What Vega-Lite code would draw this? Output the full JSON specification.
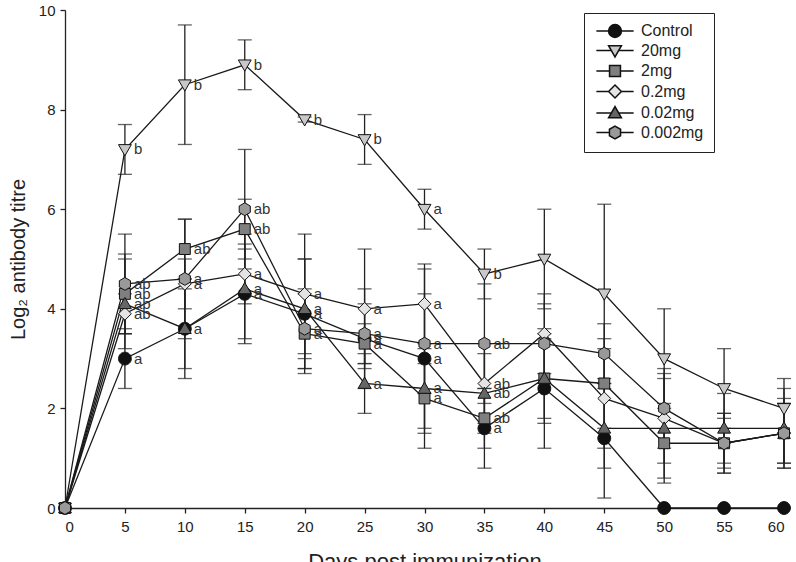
{
  "$schema": "https://vega.github.io/schema/vega-lite/v6.json",
  "width": 719,
  "height": 498,
  "autosize": {"type": "none"},
  "padding": {"left": 65, "top": 10, "right": 12, "bottom": 54},
  "background": "white",
  "config": {
    "view": {"stroke": null},
    "font": "Liberation Sans",
    "axis": {
      "grid": false,
      "domainColor": "#222",
      "domainWidth": 1.3,
      "tickColor": "#222",
      "tickWidth": 1.3,
      "tickSize": 5,
      "labelColor": "#222",
      "labelFontSize": 15,
      "titleColor": "#222",
      "titleFontWeight": "normal"
    }
  },
  "resolve": {"scale": {"shape": "independent", "fill": "independent"}},
  "data": {
    "values": [
      {"day": 0, "group": "Control", "v": 0, "lo": 0, "hi": 0, "lab": ""},
      {"day": 5, "group": "Control", "v": 3.0, "lo": 2.4, "hi": 3.6, "lab": "a"},
      {"day": 10, "group": "Control", "v": 3.6, "lo": 2.6, "hi": 4.6, "lab": "a"},
      {"day": 15, "group": "Control", "v": 4.3, "lo": 3.4, "hi": 5.2, "lab": "a"},
      {"day": 20, "group": "Control", "v": 3.9, "lo": 2.8, "hi": 5.0, "lab": "a"},
      {"day": 25, "group": "Control", "v": 3.4, "lo": 2.4, "hi": 4.4, "lab": "a"},
      {"day": 30, "group": "Control", "v": 3.0, "lo": 1.2, "hi": 4.8, "lab": "a"},
      {"day": 35, "group": "Control", "v": 1.6, "lo": 0.8, "hi": 2.4, "lab": "a"},
      {"day": 40, "group": "Control", "v": 2.4, "lo": 1.2, "hi": 3.6, "lab": ""},
      {"day": 45, "group": "Control", "v": 1.4, "lo": 0.2, "hi": 2.6, "lab": ""},
      {"day": 50, "group": "Control", "v": 0, "lo": 0, "hi": 0, "lab": ""},
      {"day": 55, "group": "Control", "v": 0, "lo": 0, "hi": 0, "lab": ""},
      {"day": 60, "group": "Control", "v": 0, "lo": 0, "hi": 0, "lab": ""},

      {"day": 0, "group": "20mg", "v": 0, "lo": 0, "hi": 0, "lab": ""},
      {"day": 5, "group": "20mg", "v": 7.2, "lo": 6.7, "hi": 7.7, "lab": "b"},
      {"day": 10, "group": "20mg", "v": 8.5, "lo": 7.3, "hi": 9.7, "lab": "b"},
      {"day": 15, "group": "20mg", "v": 8.9, "lo": 8.4, "hi": 9.4, "lab": "b"},
      {"day": 20, "group": "20mg", "v": 7.8, "lo": 7.75, "hi": 7.85, "lab": "b"},
      {"day": 25, "group": "20mg", "v": 7.4, "lo": 6.9, "hi": 7.9, "lab": "b"},
      {"day": 30, "group": "20mg", "v": 6.0, "lo": 5.6, "hi": 6.4, "lab": "a"},
      {"day": 35, "group": "20mg", "v": 4.7, "lo": 4.2, "hi": 5.2, "lab": "b"},
      {"day": 40, "group": "20mg", "v": 5.0, "lo": 4.0, "hi": 6.0, "lab": ""},
      {"day": 45, "group": "20mg", "v": 4.3, "lo": 2.5, "hi": 6.1, "lab": ""},
      {"day": 50, "group": "20mg", "v": 3.0, "lo": 2.0, "hi": 4.0, "lab": ""},
      {"day": 55, "group": "20mg", "v": 2.4, "lo": 1.6, "hi": 3.2, "lab": ""},
      {"day": 60, "group": "20mg", "v": 2.0, "lo": 1.4, "hi": 2.6, "lab": ""},

      {"day": 0, "group": "2mg", "v": 0, "lo": 0, "hi": 0, "lab": ""},
      {"day": 5, "group": "2mg", "v": 4.3, "lo": 3.5, "hi": 5.1, "lab": "ab"},
      {"day": 10, "group": "2mg", "v": 5.2, "lo": 4.6, "hi": 5.8, "lab": "ab"},
      {"day": 15, "group": "2mg", "v": 5.6, "lo": 5.0, "hi": 6.2, "lab": "ab"},
      {"day": 20, "group": "2mg", "v": 3.5, "lo": 2.7, "hi": 4.3, "lab": "a"},
      {"day": 25, "group": "2mg", "v": 3.3, "lo": 2.9, "hi": 3.7, "lab": "a"},
      {"day": 30, "group": "2mg", "v": 2.2, "lo": 1.5, "hi": 2.9, "lab": "a"},
      {"day": 35, "group": "2mg", "v": 1.8, "lo": 1.2, "hi": 2.4, "lab": "ab"},
      {"day": 40, "group": "2mg", "v": 2.6, "lo": 1.8, "hi": 3.4, "lab": ""},
      {"day": 45, "group": "2mg", "v": 2.5, "lo": 1.6, "hi": 3.4, "lab": ""},
      {"day": 50, "group": "2mg", "v": 1.3, "lo": 0.5, "hi": 2.1, "lab": ""},
      {"day": 55, "group": "2mg", "v": 1.3, "lo": 0.8, "hi": 1.8, "lab": ""},
      {"day": 60, "group": "2mg", "v": 1.5, "lo": 0.9, "hi": 2.1, "lab": ""},

      {"day": 0, "group": "0.2mg", "v": 0, "lo": 0, "hi": 0, "lab": ""},
      {"day": 5, "group": "0.2mg", "v": 3.9, "lo": 3.5, "hi": 4.3, "lab": "ab"},
      {"day": 10, "group": "0.2mg", "v": 4.5, "lo": 4.0, "hi": 5.0, "lab": "a"},
      {"day": 15, "group": "0.2mg", "v": 4.7, "lo": 4.1, "hi": 5.3, "lab": "a"},
      {"day": 20, "group": "0.2mg", "v": 4.3, "lo": 3.1, "hi": 5.5, "lab": "a"},
      {"day": 25, "group": "0.2mg", "v": 4.0, "lo": 2.8, "hi": 5.2, "lab": "a"},
      {"day": 30, "group": "0.2mg", "v": 4.1, "lo": 3.3, "hi": 4.9, "lab": "a"},
      {"day": 35, "group": "0.2mg", "v": 2.5, "lo": 1.7, "hi": 3.3, "lab": "ab"},
      {"day": 40, "group": "0.2mg", "v": 3.5, "lo": 2.7, "hi": 4.3, "lab": ""},
      {"day": 45, "group": "0.2mg", "v": 2.2, "lo": 1.2, "hi": 3.2, "lab": ""},
      {"day": 50, "group": "0.2mg", "v": 1.8, "lo": 0.9, "hi": 2.7, "lab": ""},
      {"day": 55, "group": "0.2mg", "v": 1.3, "lo": 0.7, "hi": 1.9, "lab": ""},
      {"day": 60, "group": "0.2mg", "v": 1.5, "lo": 0.8, "hi": 2.2, "lab": ""},

      {"day": 0, "group": "0.02mg", "v": 0, "lo": 0, "hi": 0, "lab": ""},
      {"day": 5, "group": "0.02mg", "v": 4.1, "lo": 3.2, "hi": 5.0, "lab": "ab"},
      {"day": 10, "group": "0.02mg", "v": 3.6, "lo": 2.8, "hi": 4.4, "lab": ""},
      {"day": 15, "group": "0.02mg", "v": 4.4, "lo": 3.3, "hi": 5.5, "lab": "a"},
      {"day": 20, "group": "0.02mg", "v": 4.0, "lo": 3.0, "hi": 5.0, "lab": "a"},
      {"day": 25, "group": "0.02mg", "v": 2.5, "lo": 1.9, "hi": 3.1, "lab": "a"},
      {"day": 30, "group": "0.02mg", "v": 2.4, "lo": 1.6, "hi": 3.2, "lab": "a"},
      {"day": 35, "group": "0.02mg", "v": 2.3, "lo": 1.5, "hi": 3.1, "lab": "ab"},
      {"day": 40, "group": "0.02mg", "v": 2.6, "lo": 1.7, "hi": 3.5, "lab": ""},
      {"day": 45, "group": "0.02mg", "v": 1.6, "lo": 0.8, "hi": 2.4, "lab": ""},
      {"day": 50, "group": "0.02mg", "v": 1.6, "lo": 0.6, "hi": 2.6, "lab": ""},
      {"day": 55, "group": "0.02mg", "v": 1.6, "lo": 0.9, "hi": 2.3, "lab": ""},
      {"day": 60, "group": "0.02mg", "v": 1.6, "lo": 0.8, "hi": 2.4, "lab": ""},

      {"day": 0, "group": "0.002mg", "v": 0, "lo": 0, "hi": 0, "lab": ""},
      {"day": 5, "group": "0.002mg", "v": 4.5, "lo": 3.5, "hi": 5.5, "lab": "ab"},
      {"day": 10, "group": "0.002mg", "v": 4.6, "lo": 3.4, "hi": 5.8, "lab": "a"},
      {"day": 15, "group": "0.002mg", "v": 6.0, "lo": 4.8, "hi": 7.2, "lab": "ab"},
      {"day": 20, "group": "0.002mg", "v": 3.6, "lo": 2.8, "hi": 4.4, "lab": "a"},
      {"day": 25, "group": "0.002mg", "v": 3.5, "lo": 2.9, "hi": 4.1, "lab": "a"},
      {"day": 30, "group": "0.002mg", "v": 3.3, "lo": 2.3, "hi": 4.3, "lab": "a"},
      {"day": 35, "group": "0.002mg", "v": 3.3, "lo": 2.1, "hi": 4.5, "lab": "ab"},
      {"day": 40, "group": "0.002mg", "v": 3.3, "lo": 2.5, "hi": 4.1, "lab": ""},
      {"day": 45, "group": "0.002mg", "v": 3.1, "lo": 2.5, "hi": 3.7, "lab": ""},
      {"day": 50, "group": "0.002mg", "v": 2.0, "lo": 1.2, "hi": 2.8, "lab": ""},
      {"day": 55, "group": "0.002mg", "v": 1.3, "lo": 0.7, "hi": 1.9, "lab": ""},
      {"day": 60, "group": "0.002mg", "v": 1.5, "lo": 0.9, "hi": 2.1, "lab": ""}
    ]
  },
  "layer": [
    {
      "transform": [{"filter": "datum.hi > datum.lo"}],
      "mark": {
        "type": "errorbar",
        "color": "#222",
        "ticks": {"size": 14, "thickness": 1.3, "color": "#222"},
        "rule": {"strokeWidth": 1.3, "color": "#222"}
      },
      "encoding": {
        "x": {"field": "day", "type": "quantitative", "scale": {"domain": [0, 60], "nice": false}, "title": "Days post immunization"},
        "y": {"field": "lo", "type": "quantitative", "scale": {"domain": [0, 10], "nice": false}, "title": "Log₂ antibody titre"},
        "y2": {"field": "hi"}
      }
    },
    {
      "mark": {"type": "line", "color": "#1a1a1a", "strokeWidth": 1.3},
      "encoding": {
        "x": {"field": "day", "type": "quantitative", "title": "Days post immunization"},
        "y": {"field": "v", "type": "quantitative", "title": "Log₂ antibody titre"},
        "detail": {"field": "group", "type": "nominal"},
        "order": {"field": "day", "type": "quantitative"}
      }
    },
    {
      "mark": {"type": "point", "filled": true, "size": 165, "stroke": "#111", "strokeWidth": 1, "opacity": 1},
      "encoding": {
        "x": {
          "field": "day", "type": "quantitative",
          "title": "Days post immunization",
          "axis": {
            "values": [0, 5, 10, 15, 20, 25, 30, 35, 40, 45, 50, 55, 60],
            "titleFontSize": 22,
            "titleBaseline": "top",
            "titleY": 43,
            "labelPadding": 6
          }
        },
        "y": {
          "field": "v", "type": "quantitative",
          "title": "Log₂ antibody titre",
          "axis": {
            "values": [0, 2, 4, 6, 8, 10],
            "titleFontSize": 20,
            "titlePadding": 10,
            "labelPadding": 5
          }
        },
        "shape": {
          "field": "group", "type": "nominal",
          "scale": {
            "domain": ["Control", "20mg", "2mg", "0.2mg", "0.02mg", "0.002mg"],
            "range": [
              "M-1,0A1,1,0,1,0,1,0A1,1,0,1,0,-1,0Z",
              "M-1,-0.75L1,-0.75L0,1Z",
              "M-0.85,-0.85L0.85,-0.85L0.85,0.85L-0.85,0.85Z",
              "M0,-1L1,0L0,1L-1,0Z",
              "M-1,0.75L1,0.75L0,-1Z",
              "M0,-1L0.866,-0.5L0.866,0.5L0,1L-0.866,0.5L-0.866,-0.5Z"
            ]
          },
          "legend": null
        },
        "fill": {
          "field": "group", "type": "nominal",
          "scale": {
            "domain": ["Control", "20mg", "2mg", "0.2mg", "0.02mg", "0.002mg"],
            "range": ["#111111", "#c8c8c8", "#7f7f7f", "#e4e4e4", "#666666", "#999999"]
          },
          "legend": null
        }
      }
    },
    {
      "transform": [{"filter": "datum.v < 0"}],
      "mark": {"type": "point", "filled": true, "size": 165, "stroke": "#111", "strokeWidth": 1.1, "opacity": 1},
      "encoding": {
        "x": {"field": "day", "type": "quantitative", "title": "Days post immunization"},
        "y": {"field": "v", "type": "quantitative", "title": "Log₂ antibody titre"},
        "shape": {
          "field": "group", "type": "nominal",
          "scale": {
            "domain": ["Control", "20mg", "2mg", "0.2mg", "0.02mg", "0.002mg"],
            "range": [
              "M-2.9,0L-1,0M1,0L2.9,0M-1,0A1,1,0,1,0,1,0A1,1,0,1,0,-1,0Z",
              "M-2.9,0L-0.57,0M0.57,0L2.9,0M-1,-0.75L1,-0.75L0,1Z",
              "M-2.9,0L-0.85,0M0.85,0L2.9,0M-0.85,-0.85L0.85,-0.85L0.85,0.85L-0.85,0.85Z",
              "M-2.9,0L-1,0M1,0L2.9,0M0,-1L1,0L0,1L-1,0Z",
              "M-2.9,0L-0.57,0M0.57,0L2.9,0M-1,0.75L1,0.75L0,-1Z",
              "M-2.9,0L-0.866,0M0.866,0L2.9,0M0,-1L0.866,-0.5L0.866,0.5L0,1L-0.866,0.5L-0.866,-0.5Z"
            ]
          },
          "legend": {
            "title": null,
            "orient": "none",
            "legendX": 519,
            "legendY": 3,
            "strokeColor": "#222",
            "padding": 10,
            "labelFontSize": 16,
            "labelColor": "#222",
            "symbolSize": 165,
            "rowPadding": 1.5,
            "symbolOffset": 13,
            "labelOffset": 18,
            "encode": {
              "symbols": {
                "update": {
                  "stroke": {"value": "#111"},
                  "strokeWidth": {"value": 1.1},
                  "opacity": {"value": 1}
                }
              }
            }
          }
        },
        "fill": {
          "field": "group", "type": "nominal",
          "scale": {
            "domain": ["Control", "20mg", "2mg", "0.2mg", "0.02mg", "0.002mg"],
            "range": ["#111111", "#c8c8c8", "#7f7f7f", "#e4e4e4", "#666666", "#999999"]
          },
          "legend": {
            "title": null,
            "orient": "none",
            "legendX": 519,
            "legendY": 3,
            "strokeColor": "#222",
            "padding": 10,
            "labelFontSize": 16,
            "labelColor": "#222",
            "symbolSize": 165,
            "rowPadding": 1.5,
            "symbolOffset": 13,
            "labelOffset": 18,
            "encode": {
              "symbols": {
                "update": {
                  "stroke": {"value": "#111"},
                  "strokeWidth": {"value": 1.1},
                  "opacity": {"value": 1}
                }
              }
            }
          }
        }
      }
    },
    {
      "transform": [{"filter": "datum.lab != ''"}],
      "mark": {"type": "text", "align": "left", "baseline": "middle", "dx": 9, "fontSize": 15, "color": "#333"},
      "encoding": {
        "x": {"field": "day", "type": "quantitative"},
        "y": {"field": "v", "type": "quantitative"},
        "text": {"field": "lab", "type": "nominal"}
      }
    }
  ]
}
